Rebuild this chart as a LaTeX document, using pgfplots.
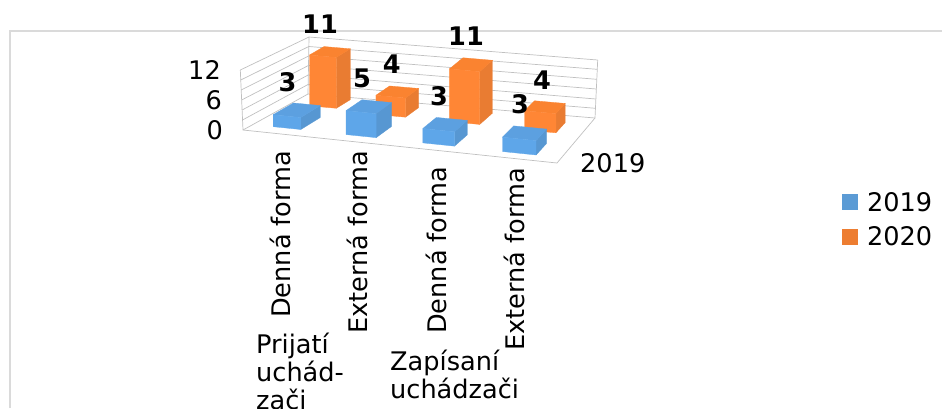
\documentclass[border=0pt]{standalone}
\usepackage{fontspec}
\setmainfont{DejaVu Sans}
\usepackage{pgfplots}
\pgfplotsset{compat=1.18}
\definecolor{blueF}{HTML}{5EA6E9}
\definecolor{blueT}{HTML}{5CA0E0}
\definecolor{blueS}{HTML}{5797D2}
\definecolor{orgF}{HTML}{FF8635}
\definecolor{orgT}{HTML}{FA8330}
\definecolor{orgS}{HTML}{E97C32}
\definecolor{wallc}{HTML}{C0C0C0}
\definecolor{framec}{HTML}{DADADA}
\definecolor{legB}{HTML}{5B9BD5}
\definecolor{legO}{HTML}{ED7D31}
\newcommand\lab{\fontsize{25.6}{30}\selectfont}
% floor of the box: s along the categories, t along the depth
\newcommand\floorpt[4]{%
  \pgfmathsetmacro#3{(1-#2)*((1-#1)*243+#1*557)+#2*((1-#1)*308+#1*595)}%
  \pgfmathsetmacro#4{(1-#2)*((1-#1)*130+#1*163)+#2*((1-#1)*94+#1*118)}%
}
\newcommand\zunit{4.8}
% s0 s1 t0 t1 value front top side
\newcommand\barbox[8]{%
  \floorpt{#1}{#3}{\ax}{\ay}\floorpt{#2}{#3}{\bx}{\by}%
  \floorpt{#2}{#4}{\cx}{\cy}\floorpt{#1}{#4}{\dx}{\dy}%
  \pgfmathsetmacro\at{\ay-#5*\zunit}\pgfmathsetmacro\bt{\by-#5*\zunit}%
  \pgfmathsetmacro\ct{\cy-#5*\zunit}\pgfmathsetmacro\dt{\dy-#5*\zunit}%
  \addplot[draw=#8, line width=.3pt, fill=#8, forget plot] coordinates {(\bx,\by) (\cx,\cy) (\cx,\ct) (\bx,\bt) (\bx,\by)};
  \addplot[draw=#7, line width=.3pt, fill=#7, forget plot] coordinates {(\ax,\at) (\bx,\bt) (\cx,\ct) (\dx,\dt) (\ax,\at)};
  \addplot[draw=#6, line width=.3pt, fill=#6, forget plot] coordinates {(\ax,\ay) (\bx,\by) (\bx,\bt) (\ax,\at) (\ax,\ay)};
}
\begin{document}
\begin{tikzpicture}
\path[use as bounding box, clip] (0,0) rectangle (942pt,408pt);
\begin{axis}[
  at={(0,0)}, anchor=south west,
  scale only axis, width=942pt, height=408pt,
  xmin=0, xmax=942, ymin=0, ymax=408, y dir=reverse,
  hide axis, clip=false,
  legend style={draw=none, fill=none, at={(axis cs:842,192)}, anchor=north west,
    row sep=14pt, inner sep=0pt, outer sep=0pt,
    nodes={inner sep=0pt, outer sep=0pt, font=\lab}},
  legend cell align=left,
  legend image code/.code={\fill[#1] (0pt,-8pt) rectangle (16pt,8pt);\path (25pt,0pt);},
]
% frame of the chart area
\addplot[framec, line width=2pt, forget plot] coordinates {(9.5,408) (9.5,30.5) (942,30.5)};
% walls: back wall and left wall, value gridlines every 2 up to 12
\addplot[wallc, line width=.7pt, forget plot] coordinates {(243,130) (308,94) (595,118)};
\addplot[wallc, line width=.7pt, forget plot] coordinates {(242.5,120) (308,84.5) (595.5,108.3)};
\addplot[wallc, line width=.7pt, forget plot] coordinates {(242.1,110) (308.2,75) (596,99)};
\addplot[wallc, line width=.7pt, forget plot] coordinates {(241.6,100) (308.4,65.5) (596.3,89)};
\addplot[wallc, line width=.7pt, forget plot] coordinates {(241.2,90) (308.6,56) (596.7,79.3)};
\addplot[wallc, line width=.7pt, forget plot] coordinates {(240.7,80) (308.8,46.5) (597.2,69.3)};
\addplot[wallc, line width=.7pt, forget plot] coordinates {(240.3,70) (309,37) (597.7,60)};
\addplot[wallc, line width=.7pt, forget plot] coordinates {(240.3,70) (243,130) (557,163) (595,118) (597.7,60)};
\addplot[wallc, line width=.7pt, forget plot] coordinates {(309,37) (308,94)};
% 2020 series behind, 2019 in front
\barbox{.067}{.158}{.72}{.95}{10.6}{orgF}{orgT}{orgS}
\barbox{.304}{.404}{.66}{.90}{4}{orgF}{orgT}{orgS}
\barbox{.554}{.656}{.65}{.92}{11}{orgF}{orgT}{orgS}
\barbox{.812}{.917}{.62}{.85}{4}{orgF}{orgT}{orgS}
\barbox{.066}{.155}{.15}{.47}{2.5}{blueF}{blueT}{blueS}
\barbox{.303}{.400}{.14}{.42}{5}{blueF}{blueT}{blueS}
\barbox{.552}{.654}{.13}{.40}{3}{blueF}{blueT}{blueS}
\barbox{.810}{.918}{.12}{.38}{3}{blueF}{blueT}{blueS}
\addlegendimage{fill=legB, draw=none}
\addlegendentry{2019}
\addlegendimage{fill=legO, draw=none}
\addlegendentry{2020}
% value labels
\begin{scope}[every node/.style={font=\lab\bfseries, inner sep=0pt}]
\node at (axis cs:320,24) {11};
\node at (axis cs:287.5,82) {3};
\node at (axis cs:362,78.5) {5};
\node at (axis cs:391.7,64) {4};
\node at (axis cs:466,36) {11};
\node at (axis cs:439,96) {3};
\node at (axis cs:542,79.7) {4};
\node at (axis cs:520,104) {3};
\end{scope}
% axis labels
\begin{scope}[every node/.style={font=\lab, inner sep=0pt}]
\node[anchor=east] at (axis cs:221,70) {12};
\node[anchor=east] at (axis cs:222,100) {6};
\node[anchor=east] at (axis cs:223,130) {0};
\node[anchor=base west] at (axis cs:580,172) {2019};
\node[rotate=90, anchor=base west] at (axis cs:290,318) {Denná forma};
\node[rotate=90, anchor=base west] at (axis cs:367.5,334) {Externá forma};
\node[rotate=90, anchor=base west] at (axis cs:446,334) {Denná forma};
\node[rotate=90, anchor=base west] at (axis cs:524,351) {Externá forma};
\node[anchor=base west] at (axis cs:256,353) {Prijatí};
\node[anchor=base west] at (axis cs:256,381) {uchád-};
\node[anchor=base west] at (axis cs:256,409) {zači};
\node[anchor=base west] at (axis cs:390,370.5) {Zapísaní};
\node[anchor=base west] at (axis cs:390,398) {uchádzači};
\end{scope}
\end{axis}
\end{tikzpicture}
\end{document}
